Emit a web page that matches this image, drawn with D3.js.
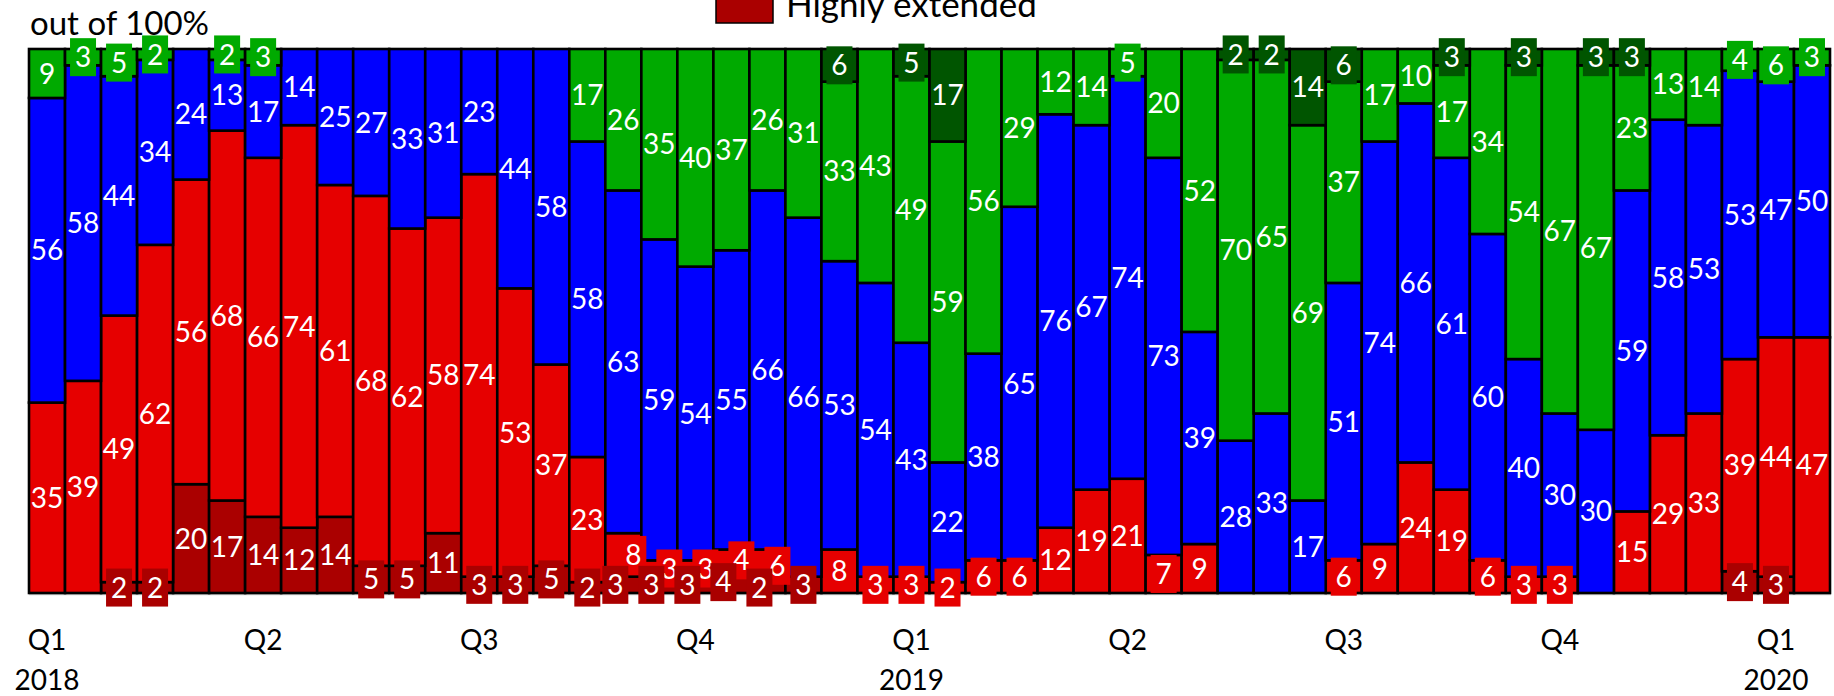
<!DOCTYPE html>
<html><head><meta charset="utf-8">
<script src="https://cdn.jsdelivr.net/npm/d3@7"></script>
<style>html,body{margin:0;padding:0;background:#fff;overflow:hidden}</style>
</head><body>
<svg id="chart" width="1834" height="696"></svg>
<script>
// ---- data ----
const seriesNames = ["Highly extended", "Extended", "Neutral", "Oversold", "Highly oversold"];
const seriesColors = ["#AA0000", "#E60000", "#0000FF", "#00AA00", "#005500"];
const highlyExtended = [0,0,2,2,20,17,14,12,14,5, 5,11,3,3,5,2,3,3,3,4, 2,3,0,0,0,0,0,0,0,0, 0,0,0,0,0,0,0,0,0,0, 0,0,0,0,0,0,0,4,3,0];
const extended       = [35,39,49,62,56,68,66,74,61,68, 62,58,74,53,37,23,8,3,3,4, 6,0,8,3,3,2,6,6,12,19, 21,7,9,0,0,0,6,9,24,19, 6,3,3,0,15,29,33,39,44,47];
const neutral        = [56,58,44,34,24,13,17,14,25,27, 33,31,23,44,58,58,63,59,54,55, 66,66,53,54,43,22,38,65,76,67, 74,73,39,28,33,17,51,74,66,61, 60,40,30,30,59,58,53,53,47,50];
const oversold       = [9,3,5,2,0,2,3,0,0,0, 0,0,0,0,0,17,26,35,40,37, 26,31,33,43,49,59,56,29,12,14, 5,20,52,70,65,69,37,17,10,17, 34,54,67,67,23,13,14,4,6,3];
const highlyOversold = [0,0,0,0,0,0,0,0,0,0, 0,0,0,0,0,0,0,0,0,0, 0,0,6,0,5,17,0,0,0,0, 0,0,0,2,2,14,6,0,0,3, 0,3,0,3,3,0,0,0,0,0];
const quarterLabels = ["Q1","Q2","Q3","Q4","Q1","Q2","Q3","Q4","Q1"];
const yearLabels = ["2018","2019","2020"];
const barsPerQuarter = 6;
const yAxisNote = "out of 100%";

// ---- build ----
const keys = ["he","e","n","o","ho"];
const rows = highlyExtended.map((_, i) => ({
  idx: i, he: highlyExtended[i], e: extended[i], n: neutral[i], o: oversold[i], ho: highlyOversold[i]
}));
const stacked = d3.stack().keys(keys)(rows);

const svg = d3.select("#chart");
svg.append("rect").attr("width", 1834).attr("height", 696).attr("fill", "#fff");

const x = d3.scaleBand().domain(d3.range(rows.length)).range([29, 1830]).padding(0);
const y = d3.scaleLinear().domain([0, 100]).range([593, 49]);
const color = d3.scaleOrdinal().domain(keys).range(seriesColors);
const FONT = "Lato, sans-serif";

// bottom axis line
svg.append("line").attr("x1", 29).attr("x2", 1831).attr("y1", 594.5).attr("y2", 594.5)
  .attr("stroke", "#cfcfcf").attr("stroke-width", 1.5);

// bars
const g = svg.append("g");
stacked.forEach(s => {
  g.selectAll(null).data(s.filter(d => d[1] - d[0] > 0)).join("rect")
    .attr("x", d => x(d.data.idx))
    .attr("width", x.bandwidth())
    .attr("y", d => y(d[1]))
    .attr("height", d => y(d[0]) - y(d[1]))
    .attr("fill", color(s.key))
    .attr("stroke", "#000")
    .attr("stroke-width", 2.6);
});

// labels
const boxH = 38;
const labels = [];
rows.forEach((r, i) => {
  const list = [];
  stacked.forEach((s, k) => {
    const d = s[i];
    const v = d[1] - d[0];
    if (v > 0) list.push({ key: s.key, k, v, cx: x(i) + x.bandwidth() / 2, cy: (y(d[0]) + y(d[1])) / 2, segH: y(d[0]) - y(d[1]), dx: 0 });
  });
  for (let j = 0; j + 1 < list.length; j++) {
    if (Math.abs(list[j].cy - list[j + 1].cy) < boxH) {
      list[j].dx = -8;
      list[j + 1].dx = 10;
    }
  }
  labels.push(...list);
});
// draw top series first so lower series boxes sit on top
labels.sort((a, b) => b.k - a.k);
const lg = svg.append("g");
labels.forEach(L => {
  const t = lg.append("g");
  const bw = String(L.v).length * 16 + 10;
  if (L.segH < boxH + 2 || L.dx !== 0) {
    t.append("rect").attr("x", L.cx + L.dx - bw / 2).attr("y", L.cy - boxH / 2)
      .attr("width", bw).attr("height", boxH).attr("fill", color(L.key));
  }
  t.append("text").attr("x", L.cx + L.dx).attr("y", L.cy).attr("dy", "0.36em")
    .attr("text-anchor", "middle").attr("fill", "#fff")
    .attr("font-family", FONT).attr("font-size", 28).text(L.v);
});

// x axis labels
quarterLabels.forEach((q, i) => {
  const idx = i * barsPerQuarter;
  svg.append("text").attr("x", x(idx) + x.bandwidth() / 2).attr("y", 650)
    .attr("text-anchor", "middle").attr("font-family", FONT).attr("font-size", 28)
    .attr("fill", "#000").text(q);
});
yearLabels.forEach((yr, i) => {
  const idx = i * barsPerQuarter * 4;
  svg.append("text").attr("x", x(idx) + x.bandwidth() / 2).attr("y", 690)
    .attr("text-anchor", "middle").attr("font-family", FONT).attr("font-size", 28)
    .attr("fill", "#000").text(yr);
});

// note
svg.append("text").attr("x", 30).attr("y", 35).attr("font-family", FONT).attr("font-size", 33)
  .attr("fill", "#000").text(yAxisNote);

// legend (only bottom item visible in frame)
svg.append("rect").attr("x", 716).attr("y", -14).attr("width", 57).attr("height", 37)
  .attr("fill", seriesColors[0]).attr("stroke", "#000").attr("stroke-width", 1.5);
svg.append("text").attr("x", 786).attr("y", 17).attr("font-family", FONT).attr("font-size", 35)
  .attr("fill", "#000").text(seriesNames[0]);
</script>
</body></html>
